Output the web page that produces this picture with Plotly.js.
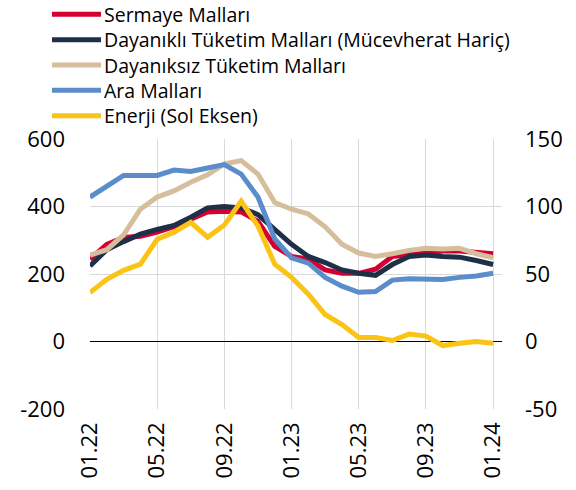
<!DOCTYPE html>
<html>
<head>
<meta charset="utf-8">
<script src="https://cdn.plot.ly/plotly-3.0.1.min.js"></script>
<style>html,body{margin:0;padding:0;background:#fff;}#chart{width:576px;height:490px;}</style>
</head>
<body>
<div id="chart"></div>
<script>
const months = ["01.22","02.22","03.22","04.22","05.22","06.22","07.22","08.22","09.22","10.22","11.22","12.22",
  "01.23","02.23","03.23","04.23","05.23","06.23","07.23","08.23","09.23","10.23","11.23","12.23","01.24"];
const tickLabels = ["01.22","05.22","09.22","01.23","05.23","09.23","01.24"];
const leftTicks = [-200, 0, 200, 400, 600];
const leftTickText = ["-200", "0", "200", "400", "600"];
const rightTicks = [-50, 0, 50, 100, 150];
const rightTickText = ["-50", "0", "50", "100", "150"];

const seriesNames = ["Sermaye Malları","Dayanıklı Tüketim Malları (Mücevherat Hariç)","Dayanıksız Tüketim Malları","Ara Malları","Enerji (Sol Eksen)"];

// right axis
const sermaye   = [61, 72, 77, 78, 81, 85, 90.5, 96, 96.5, 96, 89, 70.5, 63, 61, 53, 50.5, 50.5, 53.5, 63, 64.5, 66, 67, 67, 66, 65];
const dayanikli = [56, 68, 74, 79.5, 83, 86, 92, 99, 100, 99, 94, 83, 72, 63, 58.5, 53, 50.5, 49, 57, 63, 64, 63, 62.5, 60, 57];
const dayaniksiz= [64, 68, 79, 98, 107, 111.5, 118, 123.5, 131.5, 134, 124, 103, 98, 94.5, 85, 72, 65.5, 63, 65, 67.5, 69, 68.5, 69, 65, 62];
const ara       = [107, 115, 123, 123, 123, 127, 126, 128.5, 131, 124, 107, 76, 62, 58, 47.5, 41, 36.5, 37, 45.5, 46.5, 46, 46, 47.5, 48.5, 50.5];
// left axis
const enerji    = [145, 184, 211, 229, 303, 324, 353, 309, 345, 416, 342, 229, 190, 140, 80, 50, 12, 12, 3, 22, 16, -12, -5, 0, -5];

const colors = ["#d50032","#1e3048","#d6be9c","#5b8ccb","#fbc415"];
const FONT = "Open Sans, Noto Sans, sans-serif";

const W = 576, H = 490;
const M = {l: 90, r: 74, t: 139, b: 81};
const PW = W - M.l - M.r, PH = H - M.t - M.b;

const rightSeries = [sermaye, dayanikli, dayaniksiz, ara];
const traces = rightSeries.map((s, i) => ({
  x: months, y: s, name: seriesNames[i], type: "scatter", mode: "lines",
  yaxis: "y", line: {color: colors[i], width: 5}, showlegend: false
}));
traces.push({
  x: months, y: enerji, name: seriesNames[4], type: "scatter", mode: "lines",
  yaxis: "y2", line: {color: colors[4], width: 5}, showlegend: false
});

// custom legend: one multi-line label block + a swatch per row
const px2x = px => (px - M.l) / PW;
const py2y = py => (H - M.b - py) / PH;
const LFS = 19.5;               // legend font size
const rowGap = 1.3 * LFS;       // plotly line spacing
const midRow = 65;
const legendShapes = seriesNames.map((name, i) => {
  const rowY = midRow + (i - 2) * rowGap;
  return {type: "line", xref: "paper", yref: "paper",
    x0: px2x(52), x1: px2x(101), y0: py2y(rowY), y1: py2y(rowY),
    line: {color: colors[i], width: 5}};
});
const legendAnn = [{xref: "paper", yref: "paper", x: px2x(103), y: py2y(midRow),
  xanchor: "left", yanchor: "middle", align: "left", showarrow: false, borderpad: 0,
  text: seriesNames.join("<br>"), font: {family: FONT, size: LFS, color: "#000"}}];

const layout = {
  width: W, height: H,
  margin: {l: M.l, r: M.r, t: M.t, b: M.b, autoexpand: false},
  paper_bgcolor: "#fff", plot_bgcolor: "#fff",
  font: {family: FONT, size: 22, color: "#000"},
  showlegend: false,
  shapes: legendShapes,
  annotations: legendAnn,
  xaxis: {
    type: "category", range: [0, 24.53],
    tickmode: "array", tickvals: tickLabels, ticktext: tickLabels,
    tickangle: -90, showgrid: true, gridcolor: "#d9d9d9", gridwidth: 1,
    showline: false, zeroline: false, ticks: "", ticklabelstandoff: 8,
    tickfont: {family: FONT, size: 22}
  },
  yaxis: {
    side: "right", range: [-50, 150],
    tickmode: "array", tickvals: rightTicks, ticktext: rightTickText,
    showgrid: true, gridcolor: "#d9d9d9", gridwidth: 1,
    zeroline: true, zerolinecolor: "#000", zerolinewidth: 1,
    showline: false, ticks: "", ticklabelstandoff: 22,
    tickfont: {family: FONT, size: 22}
  },
  yaxis2: {
    overlaying: "y", side: "left", range: [-200, 600],
    tickmode: "array", tickvals: leftTicks, ticktext: leftTickText,
    showgrid: false, zeroline: false, showline: false, ticks: "", ticklabelstandoff: 24,
    tickfont: {family: FONT, size: 22}
  }
};

Plotly.newPlot("chart", traces, layout, {displayModeBar: false, staticPlot: true});
</script>
</body>
</html>
